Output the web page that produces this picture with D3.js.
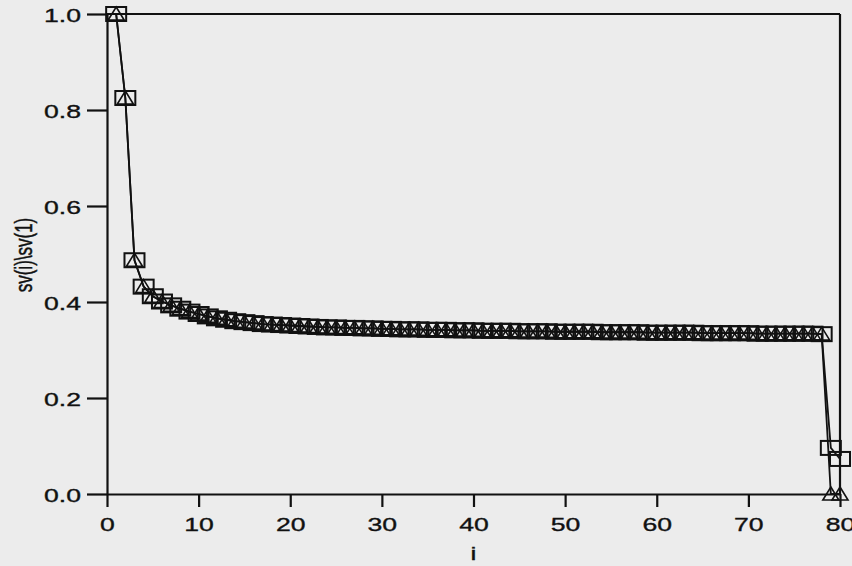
<!DOCTYPE html>
<html>
<head>
<meta charset="utf-8">
<script src="https://cdn.jsdelivr.net/npm/d3@7"></script>
<style>
  html, body { margin: 0; padding: 0; background: #ececec; }
  svg { display: block; }
  text { font-family: "Liberation Sans", Arial, Helvetica, sans-serif; fill: #111; stroke: #111; stroke-width: 0.35px; }
</style>
</head>
<body>
<svg id="chart"></svg>
<script>
// sv(i)/sv(1) chart

const svgWidth = 852;
const svgHeight = 566;

// shared values for i = 1..78 (both series sit on top of each other here)
const sharedValues = [1.000, 0.825, 0.487, 0.432, 0.412, 0.401, 0.393, 0.386, 0.380, 0.375,
                      0.370, 0.366, 0.363, 0.360, 0.358, 0.356, 0.354, 0.353, 0.352, 0.351,
                      0.350, 0.349, 0.348, 0.347, 0.347, 0.346, 0.346, 0.345, 0.345, 0.344,
                      0.344, 0.343, 0.343, 0.343, 0.342, 0.342, 0.342, 0.341, 0.341, 0.341,
                      0.340, 0.340, 0.340, 0.340, 0.339, 0.339, 0.339, 0.339, 0.338, 0.338,
                      0.338, 0.338, 0.338, 0.337, 0.337, 0.337, 0.337, 0.337, 0.336, 0.336,
                      0.336, 0.336, 0.336, 0.336, 0.335, 0.335, 0.335, 0.335, 0.335, 0.335,
                      0.334, 0.334, 0.334, 0.334, 0.334, 0.334, 0.334, 0.333];
// last two points (i = 79, 80) differ
const squareTail = [0.096, 0.073];
const triangleTail = [0.0, 0.0];

const xTicks = [0, 10, 20, 30, 40, 50, 60, 70, 80];
const yTicks = [0.0, 0.2, 0.4, 0.6, 0.8, 1.0];

const squareSeries = sharedValues.concat(squareTail).map((v, k) => ({ i: k + 1, v: v }));
const triangleSeries = sharedValues.concat(triangleTail).map((v, k) => ({ i: k + 1, v: v }));

// the scan is stretched sideways a bit, so text gets widened to match
const stretch = 1.4;

const x = d3.scaleLinear().domain([0, 80]).range([107, 840]);
const y = d3.scaleLinear().domain([0, 1]).range([494, 14]);

const svg = d3.select('#chart')
  .attr('width', svgWidth)
  .attr('height', svgHeight);

// frame: top and right sides
svg.append('line')
  .attr('x1', x(0)).attr('x2', x(80))
  .attr('y1', y(1)).attr('y2', y(1))
  .attr('stroke', '#111').attr('stroke-width', 2.2);
svg.append('line')
  .attr('x1', x(80)).attr('x2', x(80))
  .attr('y1', y(1)).attr('y2', y(0))
  .attr('stroke', '#111').attr('stroke-width', 2.2);

// axes
const xAxis = svg.append('g')
  .attr('transform', 'translate(0,' + y(0) + ')')
  .call(d3.axisBottom(x).tickValues(xTicks).tickFormat(d3.format('d'))
        .tickSize(13).tickSizeOuter(0).tickPadding(8));

const yAxis = svg.append('g')
  .attr('transform', 'translate(' + x(0) + ',0)')
  .call(d3.axisLeft(y).tickValues(yTicks).tickFormat(d3.format('.1f'))
        .tickSize(20).tickSizeOuter(0));

svg.selectAll('.domain, .tick line')
  .attr('stroke', '#111')
  .attr('stroke-width', 2.2);

xAxis.selectAll('text')
  .attr('y', 0)
  .attr('dy', 0)
  .attr('transform', 'translate(0,37) scale(' + stretch + ',1)')
  .style('font-size', '19px');

yAxis.selectAll('text')
  .attr('x', 0)
  .attr('dy', 0)
  .attr('transform', 'translate(-26,7) scale(' + stretch + ',1)')
  .style('font-size', '19px');

// axis titles
svg.append('text')
  .attr('transform', 'translate(' + ((x(0) + x(80)) / 2) + ',560) scale(' + stretch + ',1)')
  .attr('text-anchor', 'middle')
  .style('font-size', '19px')
  .text('i');

svg.append('text')
  .attr('transform', 'translate(32,255) scale(' + stretch + ',1) rotate(-90)')
  .attr('text-anchor', 'middle')
  .style('font-size', '17px')
  .text('sv(i)\\sv(1)');

// lines
const line = d3.line()
  .x(d => x(d.i))
  .y(d => y(d.v));

svg.append('path')
  .datum(triangleSeries)
  .attr('d', line)
  .attr('fill', 'none')
  .attr('stroke', '#111')
  .attr('stroke-width', 1.8);

svg.append('path')
  .datum(squareSeries)
  .attr('d', line)
  .attr('fill', 'none')
  .attr('stroke', '#111')
  .attr('stroke-width', 1.8);

// markers
svg.append('g')
  .selectAll('rect')
  .data(squareSeries)
  .enter()
  .append('rect')
  .attr('x', d => x(d.i) - 10)
  .attr('y', d => y(d.v) - 7)
  .attr('width', 20)
  .attr('height', 14)
  .attr('fill', 'none')
  .attr('stroke', '#111')
  .attr('stroke-width', 2);

svg.append('g')
  .selectAll('path')
  .data(triangleSeries)
  .enter()
  .append('path')
  .attr('d', d => {
    const cx = x(d.i), cy = y(d.v);
    return 'M' + cx + ',' + (cy - 7) + 'L' + (cx + 8) + ',' + (cy + 6) + 'L' + (cx - 8) + ',' + (cy + 6) + 'Z';
  })
  .attr('fill', 'none')
  .attr('stroke', '#111')
  .attr('stroke-width', 1.6);
</script>
</body>
</html>
